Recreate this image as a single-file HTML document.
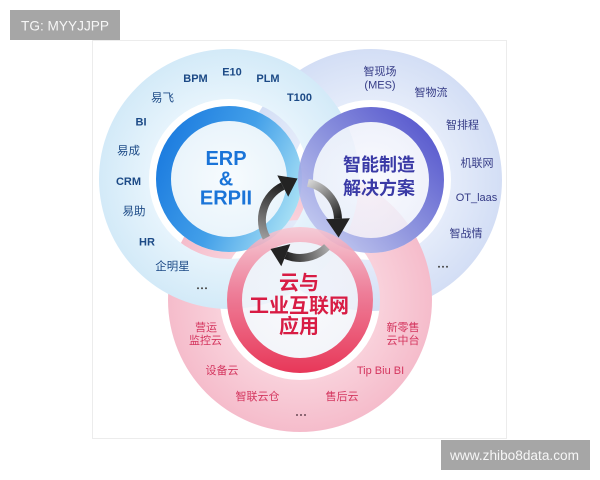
<!DOCTYPE html>
<html>
<head>
<meta charset="utf-8">
<style>
html,body{margin:0;padding:0;background:#fff;}
svg{display:block;}
text{font-family:"Liberation Sans","Noto Sans CJK SC",sans-serif;}
</style>
</head>
<body>
<svg width="600" height="480" viewBox="0 0 600 480" xmlns="http://www.w3.org/2000/svg">
<defs>
  <radialGradient id="gBlueOut" gradientUnits="userSpaceOnUse" cx="229" cy="179" r="130">
    <stop offset="0.6" stop-color="#e7f4fc"/>
    <stop offset="1" stop-color="#d3eaf8"/>
  </radialGradient>
  <radialGradient id="gPurOut" gradientUnits="userSpaceOnUse" cx="371" cy="180" r="131">
    <stop offset="0.6" stop-color="#e5ecfa"/>
    <stop offset="1" stop-color="#d3def5"/>
  </radialGradient>
  <radialGradient id="gPinkOut" gradientUnits="userSpaceOnUse" cx="300" cy="300" r="132">
    <stop offset="0.6" stop-color="#f9d1db"/>
    <stop offset="1" stop-color="#f5bccb"/>
  </radialGradient>
  <linearGradient id="gBlueRing" gradientUnits="userSpaceOnUse" x1="160" y1="150" x2="300" y2="210">
    <stop offset="0" stop-color="#1276de"/>
    <stop offset="0.5" stop-color="#3a9be8"/>
    <stop offset="1" stop-color="#a8e2f5"/>
  </linearGradient>
  <linearGradient id="gPurRing" gradientUnits="userSpaceOnUse" x1="435" y1="120" x2="305" y2="245">
    <stop offset="0" stop-color="#3e3ec6"/>
    <stop offset="0.5" stop-color="#7f86da"/>
    <stop offset="1" stop-color="#c8cff2"/>
  </linearGradient>
  <linearGradient id="gPinkRing" gradientUnits="userSpaceOnUse" x1="300" y1="228" x2="300" y2="372">
    <stop offset="0" stop-color="#f6c4d0"/>
    <stop offset="0.45" stop-color="#ee6a88"/>
    <stop offset="1" stop-color="#e5173d"/>
  </linearGradient>
  <radialGradient id="gDiscB" gradientUnits="userSpaceOnUse" cx="229" cy="179" r="60">
    <stop offset="0" stop-color="#f7fbfe"/>
    <stop offset="1" stop-color="#e9f4fb"/>
  </radialGradient>
  <radialGradient id="gDiscP" gradientUnits="userSpaceOnUse" cx="371" cy="180" r="60">
    <stop offset="0" stop-color="#f8f9fe"/>
    <stop offset="1" stop-color="#eceffa"/>
  </radialGradient>
  <radialGradient id="gDiscK" gradientUnits="userSpaceOnUse" cx="300" cy="300" r="60">
    <stop offset="0" stop-color="#f6f9fd"/>
    <stop offset="1" stop-color="#f1f2f8"/>
  </radialGradient>
  <linearGradient id="gA1" gradientUnits="userSpaceOnUse" x1="266" y1="238" x2="283" y2="186">
    <stop offset="0" stop-color="#9a9a9a"/>
    <stop offset="1" stop-color="#222"/>
  </linearGradient>
  <linearGradient id="gA2" gradientUnits="userSpaceOnUse" x1="308" y1="183" x2="338" y2="219">
    <stop offset="0" stop-color="#d4d4d4"/>
    <stop offset="1" stop-color="#222"/>
  </linearGradient>
  <linearGradient id="gA3" gradientUnits="userSpaceOnUse" x1="327" y1="247" x2="286" y2="255">
    <stop offset="0" stop-color="#a8a8a8"/>
    <stop offset="1" stop-color="#222"/>
  </linearGradient>
</defs>

<!-- panel -->
<rect x="92.5" y="40.5" width="414" height="398" fill="#fff" stroke="#ececec" stroke-width="1"/>

<!-- outer annuli: purple, pink, blue -->
<path fill-rule="evenodd" fill="url(#gPurOut)" d="M240,180 a131,131 0 1,0 262,0 a131,131 0 1,0 -262,0 Z M291,180 a80,80 0 1,0 160,0 a80,80 0 1,0 -160,0 Z"/>
<path fill-rule="evenodd" fill="url(#gPinkOut)" d="M168,300 a132,132 0 1,0 264,0 a132,132 0 1,0 -264,0 Z M220,300 a80,80 0 1,0 160,0 a80,80 0 1,0 -160,0 Z"/>
<path fill-rule="evenodd" fill="url(#gBlueOut)" d="M99,179 a130,130 0 1,0 260,0 a130,130 0 1,0 -260,0 Z M149,179 a80,80 0 1,0 160,0 a80,80 0 1,0 -160,0 Z"/>

<!-- inner disc fills -->
<circle cx="229" cy="179" r="73" fill="url(#gDiscB)"/>
<circle cx="371" cy="180" r="73" fill="url(#gDiscP)" opacity="0.85"/>
<circle cx="300" cy="300" r="73" fill="url(#gDiscK)" opacity="0.8"/>

<!-- rings -->
<circle cx="229" cy="179" r="65.5" fill="none" stroke="url(#gBlueRing)" stroke-width="15" opacity="0.95"/>
<circle cx="371" cy="180" r="65.5" fill="none" stroke="url(#gPurRing)" stroke-width="15" opacity="0.88"/>
<circle cx="300" cy="300" r="65.5" fill="none" stroke="url(#gPinkRing)" stroke-width="15" opacity="0.85"/>

<!-- circular arrows -->
<path d="M266.4,237.8 A38,38 0 0,1 282.75,186.1" fill="none" stroke="url(#gA1)" stroke-width="8"/>
<polygon points="288.2,196.8 277.3,175.4 297.5,178.5" fill="#232323"/>
<path d="M307.9,182.8 A38,38 0 0,1 337.98,218.7" fill="none" stroke="url(#gA2)" stroke-width="8"/>
<polygon points="349.9,218.3 326.0,219.1 338.6,237.5" fill="#232323"/>
<path d="M326.9,246.9 A38,38 0 0,1 285.8,255.2" fill="none" stroke="url(#gA3)" stroke-width="8"/>
<polygon points="281.3,266.3 290.3,244.1 270.5,249.0" fill="#232323"/>

<!-- center titles -->
<g font-weight="bold" fill="#1a74d8" font-size="20" text-anchor="middle" dominant-baseline="central">
  <text x="226" y="159">ERP</text>
  <text x="226" y="179.5">&amp;</text>
  <text x="226" y="198.5">ERPII</text>
</g>
<g font-weight="bold" fill="#3a3aa6" font-size="18" text-anchor="middle" dominant-baseline="central">
  <text x="379" y="165">智能制造</text>
  <text x="379" y="188.5">解决方案</text>
</g>
<g font-weight="bold" fill="#d81c44" font-size="20" text-anchor="middle" dominant-baseline="central">
  <text x="299" y="283.5">云与</text>
  <text x="299" y="306.5">工业互联网</text>
  <text x="299" y="327">应用</text>
</g>

<!-- blue labels -->
<g fill="#1c4a86" font-size="11" font-weight="bold" text-anchor="middle" dominant-baseline="central">
  <text x="195.5" y="79">BPM</text>
  <text x="232" y="72.7">E10</text>
  <text x="268" y="79">PLM</text>
  <text x="299.5" y="98">T100</text>
  <text x="141" y="122.5">BI</text>
  <text x="128.5" y="182">CRM</text>
  <text x="147" y="242.5">HR</text>
</g>
<g fill="#1c4a86" font-size="11.5" text-anchor="middle" dominant-baseline="central">
  <text x="162.5" y="98.5">易飞</text>
  <text x="128.5" y="151.7">易成</text>
  <text x="134" y="212">易助</text>
  <text x="172.5" y="267">企明星</text>
</g>
<g fill="#444">
  <circle cx="198" cy="288.3" r="1"/>
  <circle cx="202" cy="288.3" r="1"/>
  <circle cx="206" cy="288.3" r="1"/>
</g>

<!-- purple labels -->
<g fill="#353b86" font-size="11" text-anchor="middle" dominant-baseline="central">
  <text x="380" y="72">智现场</text>
  <text x="380" y="85.5">(MES)</text>
  <text x="431" y="93">智物流</text>
  <text x="462.5" y="125.5">智排程</text>
  <text x="477" y="163.7">机联网</text>
  <text x="476.5" y="198">OT_laas</text>
  <text x="466" y="234">智战情</text>
</g>
<g fill="#444">
  <circle cx="439" cy="266.7" r="1"/>
  <circle cx="443" cy="266.7" r="1"/>
  <circle cx="447" cy="266.7" r="1"/>
</g>

<!-- pink labels -->
<g fill="#d4365f" font-size="11" text-anchor="middle" dominant-baseline="central">
  <text x="206" y="328">营运</text>
  <text x="205.5" y="341">监控云</text>
  <text x="403" y="328">新零售</text>
  <text x="403" y="341">云中台</text>
  <text x="222" y="371">设备云</text>
  <text x="380.5" y="371">Tip Biu BI</text>
  <text x="257.5" y="397">智联云仓</text>
  <text x="342" y="397">售后云</text>
</g>
<g fill="#6a4a55">
  <circle cx="297" cy="415" r="1"/>
  <circle cx="301" cy="415" r="1"/>
  <circle cx="305" cy="415" r="1"/>
</g>

<!-- watermark tags -->
<rect x="10" y="10" width="110" height="30" fill="#a6a6a6"/>
<text x="21" y="25.5" font-size="14" fill="#f6f6f6" dominant-baseline="central" textLength="88" lengthAdjust="spacingAndGlyphs">TG: MYYJJPP</text>
<rect x="441" y="440" width="149" height="30" fill="#a6a6a6"/>
<text x="450" y="455.5" font-size="13.5" fill="#f6f6f6" dominant-baseline="central" textLength="129" lengthAdjust="spacingAndGlyphs">www.zhibo8data.com</text>
</svg>
</body>
</html>
